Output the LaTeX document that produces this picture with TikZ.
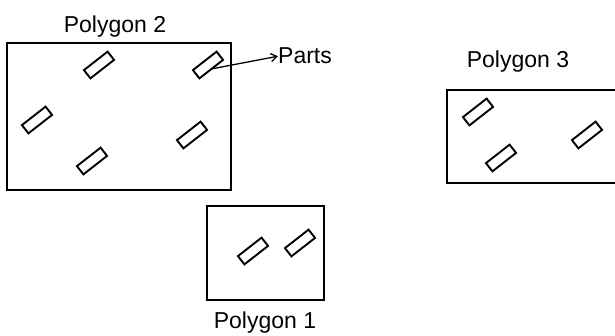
\documentclass[tikz,border=0pt]{standalone}
\usepackage{fontspec}
\setmainfont{Liberation Sans}
\usetikzlibrary{arrows.meta}
\begin{document}
\begin{tikzpicture}[x=1pt,y=-1pt,
  poly/.style={draw,line width=2.3pt},
  part/.style={draw,line width=1.9pt,rectangle,minimum width=30pt,minimum height=10.5pt,inner sep=0pt,rotate=38},
  lbl/.style={font=\fontsize{23}{26}\selectfont,inner sep=0pt,anchor=base}]
\useasboundingbox (0,0) rectangle (615,335);
% Polygon 2
\draw[poly] (7,43) rectangle (231,190);
\node[lbl] (l2) at (115,32) {Polygon 2};
\node[part] (a) at (99,65) {};
\node[part] (b) at (208,65) {};
\node[part] (c) at (37,120) {};
\node[part] (d) at (92,161) {};
\node[part] (e) at (192,135) {};
% Parts label
\node[lbl,anchor=base west] (parts) at (278,63) {Parts};
\draw[line width=1.3pt,-{Straight Barb[length=6pt,width=8pt]}] (b.center) ++(3,4) coordinate (bs) -- ([yshift=-1pt]parts.west);
% Polygon 3
\draw[poly] (447,90) rectangle (620,183);
\node[lbl] (l3) at (518,67) {Polygon 3};
\node[part] (f) at (478,112) {};
\node[part] (g) at (501,158) {};
\node[part] (h) at (587,135) {};
% Polygon 1
\draw[poly] (207,206) rectangle (324,300);
\node[lbl] (l1) at (265,328) {Polygon 1};
\node[part] (i) at (253,251) {};
\node[part] (j) at (300,243) {};
\end{tikzpicture}
\end{document}
